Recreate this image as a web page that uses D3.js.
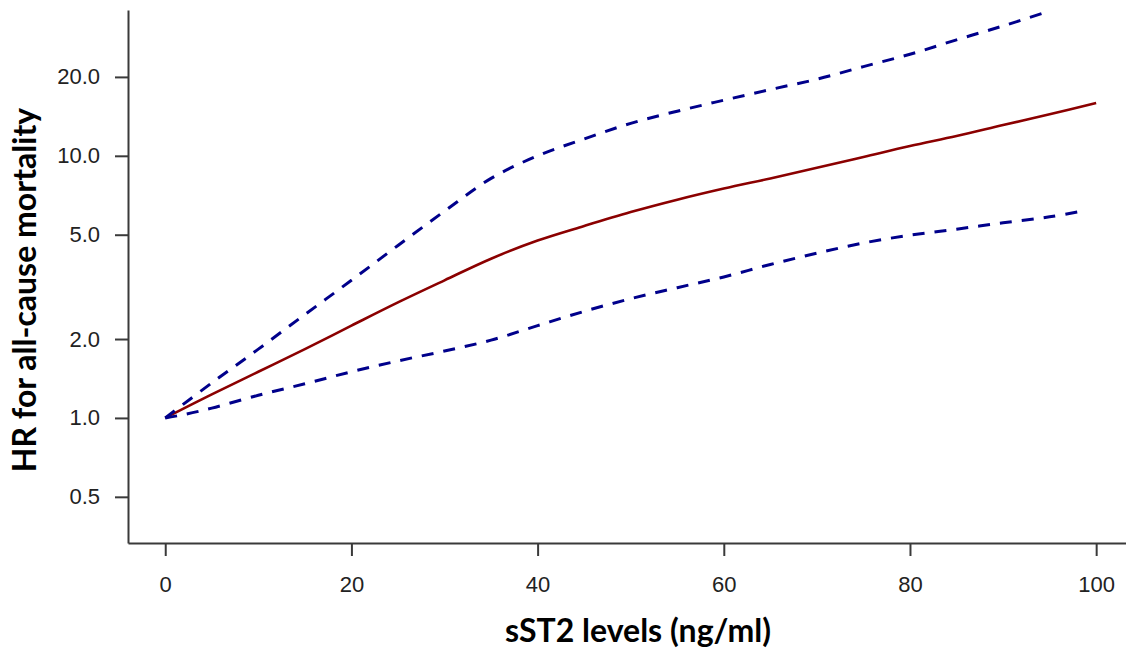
<!DOCTYPE html>
<html>
<head>
<meta charset="utf-8">
<script src="https://cdn.jsdelivr.net/npm/d3@7"></script>
<style>
  body { margin: 0; background: #fff; }
  svg { display: block; }
</style>
</head>
<body>
<script>
// sST2 (ng/ml) vs hazard ratio
var hrX    = [0, 5, 10, 15, 20, 25, 30, 35, 40, 45, 50, 55, 60, 65, 70, 75, 80, 85, 90, 95, 100];
var hrY    = [1.0, 1.23, 1.50, 1.83, 2.25, 2.76, 3.35, 4.05, 4.75, 5.4, 6.1, 6.8, 7.5, 8.2, 9.0, 9.9, 10.9, 11.9, 13.1, 14.4, 15.9];
var upperX = [0, 5, 10, 15, 20, 25, 30, 35, 40, 45, 50, 55, 60, 65, 70, 75, 80, 85, 90, 94.5];
var upperY = [1.0, 1.36, 1.83, 2.48, 3.35, 4.55, 6.15, 8.2, 10.0, 11.6, 13.3, 14.8, 16.3, 17.9, 19.6, 21.9, 24.4, 27.7, 31.3, 35.2];
var lowerX = [0, 2, 5, 10, 15, 20, 25, 30, 35, 40, 45, 50, 55, 60, 65, 70, 75, 80, 85, 90, 95, 98.5];
var lowerY = [1.0, 1.03, 1.09, 1.22, 1.35, 1.50, 1.65, 1.80, 1.98, 2.25, 2.55, 2.85, 3.14, 3.45, 3.85, 4.25, 4.65, 4.98, 5.25, 5.55, 5.85, 6.15];

var xTicks = [0, 20, 40, 60, 80, 100];
var yTicks = [0.5, 1, 2, 5, 10, 20];

var width = 1126, height = 653;
var plotLeft = 128, plotTop = 10, plotRight = 1133.4, plotBottom = 543;

var svg = d3.select('body').append('svg')
    .attr('width', width)
    .attr('height', height);

var x = d3.scaleLinear().domain([-4, 104]).range([plotLeft, plotRight]);
var y = d3.scaleLog().domain([0.3333, 36]).range([plotBottom, plotTop]);

svg.append('clipPath').attr('id', 'plot')
  .append('rect')
    .attr('x', plotLeft).attr('y', plotTop)
    .attr('width', plotRight - plotLeft).attr('height', plotBottom - plotTop);

function zip(xs, ys) {
  return xs.map(function(v, i) { return [v, ys[i]]; });
}

var line = d3.line()
    .x(function(d) { return x(d[0]); })
    .y(function(d) { return y(d[1]); })
    .curve(d3.curveCatmullRom.alpha(0.5));

var lines = svg.append('g').attr('clip-path', 'url(#plot)');

lines.append('path')
    .datum(zip(hrX, hrY))
    .attr('d', line)
    .attr('fill', 'none')
    .attr('stroke', '#8b0000')
    .attr('stroke-width', 2.6);

[zip(upperX, upperY), zip(lowerX, lowerY)].forEach(function(d) {
  lines.append('path')
      .datum(d)
      .attr('d', line)
      .attr('fill', 'none')
      .attr('stroke', '#00008b')
      .attr('stroke-width', 3)
      .attr('stroke-dasharray', '12,10');
});

var yAxis = svg.append('g')
    .attr('transform', 'translate(' + plotLeft + ',0)')
    .call(d3.axisLeft(y)
      .tickValues(yTicks)
      .tickFormat(d3.format('.1f'))
      .tickSize(13)
      .tickSizeOuter(0)
      .tickPadding(15));

var xAxis = svg.append('g')
    .attr('transform', 'translate(0,' + plotBottom + ')')
    .call(d3.axisBottom(x)
      .tickValues(xTicks)
      .tickSize(13)
      .tickSizeOuter(0)
      .tickPadding(20));

[xAxis, yAxis].forEach(function(g) {
  g.selectAll('path, line')
      .attr('stroke', '#3a3a3a')
      .attr('stroke-width', 2);
  g.selectAll('text')
      .attr('fill', '#222')
      .style('font-family', 'Arial, "Liberation Sans", sans-serif')
      .style('font-size', '22px');
});

svg.append('text')
    .attr('x', 638)
    .attr('y', 642)
    .attr('text-anchor', 'middle')
    .style('font-family', 'Lato, "Open Sans", sans-serif')
    .style('font-weight', 'bold')
    .style('font-size', '32px')
    .attr('fill', '#000')
    .text('sST2 levels (ng/ml)');

svg.append('text')
    .attr('transform', 'translate(36,290) rotate(-90)')
    .attr('text-anchor', 'middle')
    .style('font-family', 'Lato, "Open Sans", sans-serif')
    .style('font-weight', 'bold')
    .style('font-size', '32px')
    .attr('fill', '#000')
    .text('HR for all-cause mortality');
</script>
</body>
</html>
